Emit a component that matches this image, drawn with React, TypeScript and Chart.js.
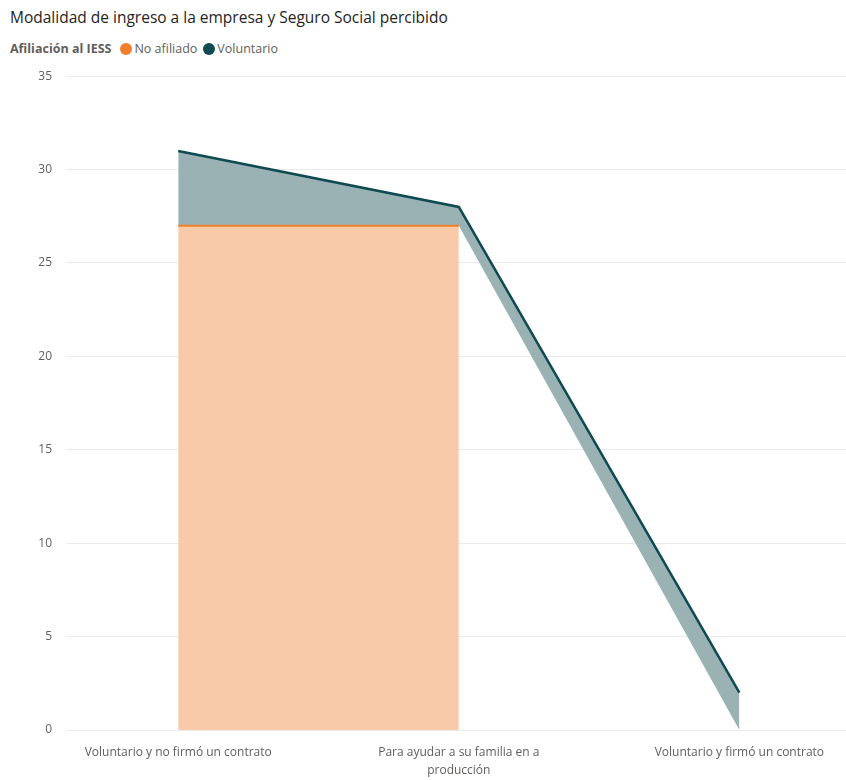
import React, { useEffect, useRef } from "react";
import { Chart, registerables } from "chart.js";

Chart.register(...registerables);

const categories: string[][] = [
  ["Voluntario y no firmó un contrato"],
  ["Para ayudar a su familia en a", "producción"],
  ["Voluntario y firmó un contrato"],
];
const noAfiliado: (number | null)[] = [27, 27, null];
const voluntario: number[] = [4, 1, 2];
const yTicks: number[] = [0, 5, 10, 15, 20, 25, 30, 35];

const FONT = "'Open Sans', 'DejaVu Sans', sans-serif";
const ORANGE_LINE = "#EF7F2B";
const ORANGE_FILL = "#F8CAA9";
const TEAL_LINE = "#0E4A52";
const TEAL_FILL = "#9BB2B5";

export default function App() {
  const ref = useRef<HTMLCanvasElement | null>(null);

  useEffect(() => {
    if (!ref.current) return;
    const orangePts = noAfiliado.map((v, i) => ({ x: i, y: v }));
    const basePts = noAfiliado.map((v, i) => ({ x: i, y: v ?? 0 }));
    const topPts = voluntario.map((v, i) => ({ x: i, y: (noAfiliado[i] ?? 0) + v }));

    const chart = new Chart(ref.current, {
      type: "line",
      data: {
        datasets: [
          {
            label: "No afiliado",
            data: orangePts as any,
            borderColor: ORANGE_LINE,
            backgroundColor: ORANGE_FILL,
            borderWidth: 2,
            pointRadius: 0,
            fill: "origin",
            spanGaps: false,
            tension: 0,
          },
          {
            label: "_base",
            data: basePts as any,
            borderWidth: 0,
            borderColor: "rgba(0,0,0,0)",
            pointRadius: 0,
            fill: false,
          },
          {
            label: "Voluntario",
            data: topPts as any,
            borderColor: TEAL_LINE,
            backgroundColor: TEAL_FILL,
            borderWidth: 2.5,
            pointRadius: 0,
            fill: "-1",
            tension: 0,
          },
        ],
      },
      options: {
        animation: false,
        responsive: false,
        maintainAspectRatio: false,
        layout: { padding: { left: 8, right: 0, top: 5, bottom: 0 } },
        plugins: {
          legend: { display: false },
          tooltip: { enabled: false },
        },
        scales: {
          x: {
            type: "linear",
            min: -0.4,
            max: 2.38,
            grid: { display: false, drawTicks: false },
            border: { display: false },
            afterFit: (s: any) => {
              s.height = 50;
            },
            ticks: {
              stepSize: 1,
              includeBounds: false,
              autoSkip: false,
              maxRotation: 0,
              padding: 14,
              color: "#605E5C",
              font: { family: FONT, size: 12, lineHeight: 1.5 },
              callback: (v: any) => {
                const n = Number(v);
                return Number.isInteger(n) && categories[n] ? categories[n] : "";
              },
            },
          },
          y: {
            min: 0,
            max: 35,
            grid: { color: "#EAEAEA", drawTicks: false, lineWidth: 1 },
            border: { display: false },
            afterBuildTicks: (s: any) => {
              s.ticks = yTicks.map((v) => ({ value: v }));
            },
            afterFit: (s: any) => {
              s.width = 58;
            },
            ticks: {
              padding: 14,
              color: "#605E5C",
              font: { family: FONT, size: 12 },
            },
          },
        },
      },
    });
    return () => chart.destroy();
  }, []);

  return (
    <div style={{ position: "absolute", left: 0, top: 0, width: 846, height: 780, background: "#fff", fontFamily: FONT }}>
      <div style={{ position: "absolute", left: 10, top: 6, fontSize: 15.5, color: "#252423", whiteSpace: "nowrap" }}>
        Modalidad de ingreso a la empresa y Seguro Social percibido
      </div>
      <div style={{ position: "absolute", left: 10, top: 40, fontSize: 12.5, color: "#605E5C", display: "flex", alignItems: "center", whiteSpace: "nowrap" }}>
        <span style={{ fontWeight: 700, marginRight: 9 }}>Afiliación al IESS</span>
        <span style={{ width: 12, height: 12, borderRadius: "50%", background: ORANGE_LINE, display: "inline-block", marginRight: 2 }} />
        <span style={{ marginRight: 6 }}>No afiliado</span>
        <span style={{ width: 12, height: 12, borderRadius: "50%", background: TEAL_LINE, display: "inline-block", marginRight: 2 }} />
        <span>Voluntario</span>
      </div>
      <canvas ref={ref} width={846} height={725} style={{ position: "absolute", left: 0, top: 55, width: 846, height: 725 }} />
    </div>
  );
}
